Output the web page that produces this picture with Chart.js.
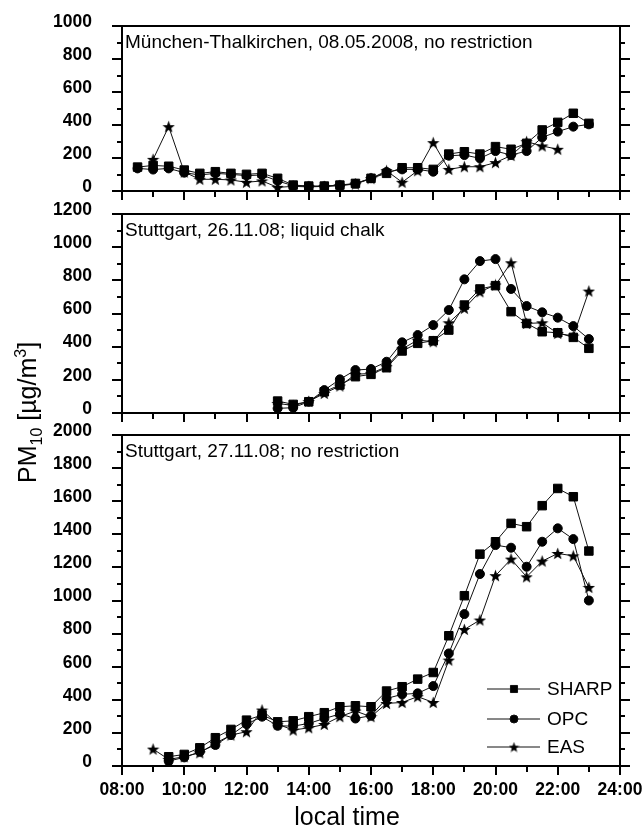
<!DOCTYPE html>
<html>
<head>
<meta charset="utf-8">
<script src="https://cdn.jsdelivr.net/npm/chart.js@4.4.1/dist/chart.umd.min.js"></script>
<style>
  html, body { margin: 0; padding: 0; background: #fff; overflow: hidden; }
  #wrap { position: relative; width: 643px; height: 829px; overflow: hidden; }
  #wrap canvas { position: absolute; left: 0; top: 0; }
</style>
</head>
<body>
<div id="wrap">
  <canvas id="c1" width="680" height="829"></canvas>
  <canvas id="c2" width="680" height="829"></canvas>
  <canvas id="c3" width="680" height="829"></canvas>
</div>
<script>
// München-Thalkirchen, 08.05.2008
const timesMuc = [8.5, 9, 9.5, 10, 10.5, 11, 11.5, 12, 12.5, 13, 13.5, 14, 14.5, 15, 15.5, 16, 16.5, 17, 17.5, 18, 18.5, 19, 19.5, 20, 20.5, 21, 21.5, 22, 22.5, 23];
const sharpMuc = [145, 155, 150, 127, 107, 117, 107, 101, 107, 77, 36, 30, 30, 36, 46, 77, 107, 141, 141, 131, 224, 238, 224, 269, 253, 289, 370, 416, 471, 410];
const opcMuc   = [137, 130, 137, 111, 97, 107, 101, 93, 97, 61, 32, 28, 28, 34, 44, 77, 115, 131, 131, 117, 214, 218, 198, 242, 218, 242, 325, 360, 390, 404];
const easMuc   = [null, 192, 390, 115, 71, 71, 67, 53, 61, 22, 28, 25, 28, 33, 42, 75, 123, 53, 123, 293, 131, 147, 147, 172, 215, 299, 273, 253, null, null];

// Stuttgart, 26.11.08
const timesS26 = [13, 13.5, 14, 14.5, 15, 15.5, 16, 16.5, 17, 17.5, 18, 18.5, 19, 19.5, 20, 20.5, 21, 21.5, 22, 22.5, 23];
const sharpS26 = [72, 52, 68, 128, 169, 219, 233, 273, 374, 420, 436, 500, 651, 748, 768, 611, 540, 490, 484, 456, 390];
const opcS26   = [28, 32, 68, 138, 203, 259, 265, 309, 426, 470, 530, 621, 806, 916, 928, 748, 645, 607, 575, 524, 446];
const easS26   = [58, 45, 70, 118, 163, 233, 239, 279, 386, 440, 430, 544, 631, 731, 772, 906, 540, 544, 480, 464, 735];

// Stuttgart, 27.11.08
const timesS27 = [9, 9.5, 10, 10.5, 11, 11.5, 12, 12.5, 13, 13.5, 14, 14.5, 15, 15.5, 16, 16.5, 17, 17.5, 18, 18.5, 19, 19.5, 20, 20.5, 21, 21.5, 22, 22.5, 23];
const sharpS27 = [null, 56, 70, 110, 171, 221, 277, 308, 267, 273, 298, 322, 358, 364, 358, 453, 479, 525, 565, 787, 1029, 1280, 1355, 1466, 1446, 1573, 1677, 1627, 1299];
const opcS27   = [null, 30, 52, 86, 127, 187, 253, 298, 243, 241, 257, 287, 314, 287, 304, 408, 433, 439, 483, 680, 918, 1160, 1335, 1319, 1204, 1355, 1436, 1371, 1000];
const easS27   = [102, 40, 56, 80, 137, 187, 207, 338, 253, 217, 231, 251, 298, 332, 298, 378, 384, 419, 384, 640, 825, 882, 1150, 1250, 1143, 1238, 1284, 1270, 1079];

const seriesNames = ['SHARP', 'OPC', 'EAS'];
const panelTitles = [
  'München-Thalkirchen, 08.05.2008, no restriction',
  'Stuttgart, 26.11.08; liquid chalk',
  'Stuttgart, 27.11.08; no restriction'
];
const yMaxes = [1000, 1200, 2000];

const FONT = "'Liberation Sans', Arial, sans-serif";

// filled five point star used as point marker
const makeStar = (size) => {
  const c = document.createElement('canvas');
  c.width = size; c.height = size;
  const g = c.getContext('2d');
  const cx = size / 2, cy = size / 2 + 0.6, R = size / 2, r = R * 0.42;
  g.beginPath();
  for (let i = 0; i < 10; i++) {
    const a = -Math.PI / 2 + i * Math.PI / 5;
    const rad = i % 2 === 0 ? R : r;
    g.lineTo(cx + rad * Math.cos(a), cy + rad * Math.sin(a));
  }
  g.closePath();
  g.fillStyle = '#000';
  g.fill();
  return c;
};
const starImg = makeStar(13);
const starSmall = makeStar(11);

const markers = [
  { pointStyle: 'rect', pointRadius: 6 },
  { pointStyle: 'circle', pointRadius: 4.5 },
  { pointStyle: starImg, pointRadius: 6 }
];
const legendMarkers = ['rect', 'circle', starSmall];

const toPoints = (times, vals) =>
  times.map((t, i) => ({ x: t, y: vals[i] })).filter(p => p.y !== null);

const buildDatasets = (times, lists) => lists.map((vals, i) => ({
  label: seriesNames[i],
  data: toPoints(times, vals),
  borderColor: '#111',
  borderWidth: 1,
  backgroundColor: '#000',
  pointBackgroundColor: '#000',
  pointBorderColor: '#000',
  pointBorderWidth: 1,
  pointStyle: markers[i].pointStyle,
  pointRadius: markers[i].pointRadius,
  tension: 0,
  fill: false
}));

// axes frame with major/minor ticks, panel caption, legend and axis titles
const framePlugin = {
  id: 'frame',
  afterDraw(chart, args, opts) {
    const { ctx, chartArea: a, scales } = chart;
    const y = scales.y, x = scales.x;
    ctx.save();
    ctx.strokeStyle = '#000';
    ctx.lineWidth = 2;
    ctx.lineCap = 'butt';
    ctx.beginPath();
    ctx.moveTo(a.left, a.top); ctx.lineTo(a.right, a.top);
    ctx.moveTo(a.left, a.bottom); ctx.lineTo(a.right, a.bottom);
    ctx.moveTo(a.left, a.top - 1); ctx.lineTo(a.left, a.bottom + 1);
    ctx.moveTo(a.right, a.top - 1); ctx.lineTo(a.right, a.bottom + 1);
    for (let v = 0; v <= y.max; v += 100) {
      const py = Math.round(y.getPixelForValue(v));
      const len = v % 200 === 0 ? 10 : 5;
      ctx.moveTo(a.left - len, py); ctx.lineTo(a.left, py);
      ctx.moveTo(a.right, py); ctx.lineTo(a.right + len, py);
    }
    for (let t = 8; t <= 24; t += 1) {
      const px = Math.round(x.getPixelForValue(t));
      const len = t % 2 === 0 ? 9 : 6;
      ctx.moveTo(px, a.bottom); ctx.lineTo(px, a.bottom + len);
    }
    ctx.stroke();

    ctx.fillStyle = '#000';
    ctx.font = '19px ' + FONT;
    ctx.textAlign = 'left';
    ctx.textBaseline = 'alphabetic';
    ctx.fillText(opts.title, a.left + 3, a.top + 22);

    if (opts.last) {
      // legend
      const legendY = [689, 719, 747];
      chart.data.datasets.forEach((ds, i) => {
        const ly = legendY[i];
        ctx.lineWidth = 1;
        ctx.strokeStyle = '#111';
        ctx.beginPath();
        ctx.moveTo(487, ly); ctx.lineTo(540, ly);
        ctx.stroke();
        ctx.fillStyle = '#000';
        Chart.helpers.drawPoint(ctx, {
          pointStyle: legendMarkers[i], radius: i === 0 ? 5 : 4, borderWidth: 1
        }, 514, ly);
        ctx.fillStyle = '#000';
        ctx.font = '19px ' + FONT;
        ctx.textBaseline = 'middle';
        ctx.fillText(ds.label, 547, ly + 1);
      });

      // axis titles
      ctx.textBaseline = 'alphabetic';
      ctx.textAlign = 'center';
      ctx.font = '25px ' + FONT;
      ctx.fillText('local time', 347, 825);

      ctx.translate(36, 483);
      ctx.rotate(-Math.PI / 2);
      ctx.textAlign = 'left';
      let cx = 0;
      const part = (txt, size, dy) => {
        ctx.font = size + 'px ' + FONT;
        ctx.fillText(txt, cx, dy);
        cx += ctx.measureText(txt).width;
      };
      part('PM', 25, 0);
      part('10', 16, 6);
      part(' [µg/m', 25, 0);
      part('3', 16, -10);
      part(']', 25, 0);
    }
    ctx.restore();
  }
};

const makeChart = (id, datasets, idx, top, bottom) => {
  const last = idx === 2;
  return new Chart(document.getElementById(id), {
    type: 'line',
    data: { datasets },
    options: {
      responsive: false,
      animation: false,
      layout: { padding: { top: top, right: 60, left: 0, bottom: 0 } },
      plugins: {
        legend: { display: false },
        tooltip: { enabled: false },
        frame: { title: panelTitles[idx], last: last }
      },
      scales: {
        x: {
          type: 'linear', min: 8, max: 24,
          grid: { display: false, drawTicks: false },
          border: { display: false },
          ticks: {
            display: last, stepSize: 2, autoSkip: false, maxRotation: 0,
            padding: 14, color: '#000',
            font: { family: FONT, size: 17.5, weight: 'bold' },
            callback: (v) => String(v).padStart(2, '0') + ':00'
          },
          afterFit: (s) => { s.height = 829 - bottom; }
        },
        y: {
          min: 0, max: yMaxes[idx],
          grid: { display: false, drawTicks: true, tickLength: 28 },
          border: { display: false },
          ticks: {
            stepSize: 200, padding: 2, labelOffset: -4, color: '#000',
            font: { family: FONT, size: 17.5, weight: 'bold' },
            callback: (v) => String(v)
          },
          afterFit: (s) => { s.width = 122; }
        }
      }
    },
    plugins: [framePlugin]
  });
};

window.onload = () => {
  makeChart('c1', buildDatasets(timesMuc, [sharpMuc, opcMuc, easMuc]), 0, 26, 191);
  makeChart('c2', buildDatasets(timesS26, [sharpS26, opcS26, easS26]), 1, 214, 413);
  makeChart('c3', buildDatasets(timesS27, [sharpS27, opcS27, easS27]), 2, 435, 766);
};
</script>
</body>
</html>
